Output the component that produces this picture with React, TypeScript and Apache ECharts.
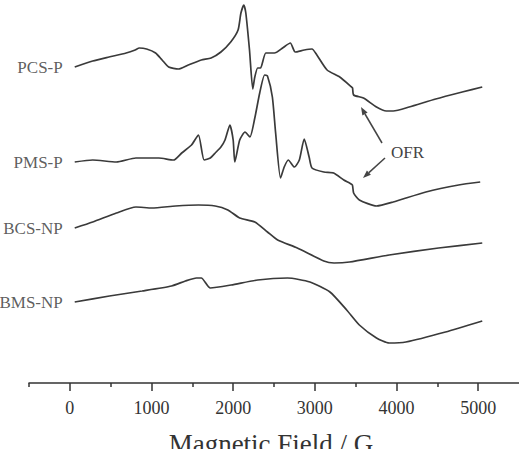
import React, { useEffect, useRef } from "react";
import * as echarts from "echarts";

// Magnetic field (G) sampling points and relative signal for each spectrum
const pcsField = [60, 280, 480, 690, 800, 850, 940, 1050, 1130, 1210, 1330, 1450, 1610, 1730, 1850, 1970, 2060, 2095, 2130, 2155, 2200, 2240, 2265, 2300, 2335, 2400, 2505, 2605, 2700, 2760, 2870, 2965, 3025, 3150, 3305, 3450, 3462, 3475, 3595, 3755, 3875, 3960, 4155, 4480, 4805, 5050];
const pcsSignal = [0, 6, 10, 14, 17, 19, 18, 14, 7, 0, -2, 2, 7, 9, 15, 25, 37, 54, 62, 54, 17, -22, -10, -1, -1, 14, 14, 19, 24, 15, 17, 18, 12, -3, -10, -20, -21, -28, -31, -40, -44, -44, -40, -32, -25, -20];

const pmsField = [60, 280, 570, 810, 1090, 1270, 1370, 1490, 1575, 1645, 1720, 1780, 1850, 1900, 1960, 2000, 2020, 2080, 2145, 2205, 2265, 2325, 2385, 2420, 2480, 2520, 2580, 2625, 2675, 2750, 2810, 2870, 2930, 2965, 3110, 3230, 3355, 3425, 3460, 3475, 3545, 3755, 3960, 4360, 4760, 5025];
const pmsSignal = [0, 2, 0, 4, 4, 2, 9, 17, 27, 2, 4, 9, 15, 22, 37, 22, 0, 22, 30, 25, 44, 69, 87, 86, 65, 29, -16, -5, 2, -5, 2, 23, 5, -6, -10, -11, -18, -21, -23, -31, -38, -44, -40, -30, -23, -20];

const bcsField = [60, 280, 570, 810, 1005, 1295, 1575, 1780, 1935, 2080, 2265, 2420, 2545, 2785, 3110, 3235, 3425, 3910, 4515, 5050];
const bcsSignal = [0, 6, 15, 21, 20, 22, 23, 22, 18, 10, 6, -4, -12, -20, -33, -35, -34, -27, -20, -15];

const bmsField = [60, 485, 885, 1245, 1415, 1550, 1610, 1720, 1975, 2300, 2665, 2940, 3185, 3390, 3545, 3755, 3910, 4115, 4600, 5050];
const bmsSignal = [0, 6, 11, 16, 21, 24, 24, 14, 17, 22, 24, 20, 10, -8, -23, -36, -41, -40, -30, -19];

const sampleNames = ["PCS-P", "PMS-P", "BCS-NP", "BMS-NP"];
const stackOffsets = [316, 221, 155, 81];

const majorTicks = [0, 1000, 2000, 3000, 4000, 5000];
const minorTicks = [-500, 500, 1500, 2500, 3500, 4500];

const FONT = "'Liberation Serif', 'Times New Roman', serif";
const INK = "#333333";

export default function App() {
  const ref = useRef<HTMLDivElement>(null);

  useEffect(() => {
    if (!ref.current) return;
    const chart = echarts.init(ref.current, undefined, { renderer: "svg" });

    const fields = [pcsField, pmsField, bcsField, bmsField];
    const signals = [pcsSignal, pmsSignal, bcsSignal, bmsSignal];

    const lineSeries = sampleNames.map((name, i) => ({
      type: "line",
      name,
      xAxisIndex: 0,
      yAxisIndex: 0,
      showSymbol: false,
      symbol: "none",
      smooth: 0.2,
      data: fields[i].map((f, j) => [f, stackOffsets[i] + signals[i][j]]),
      lineStyle: { color: "#3a3a3a", width: 1.7 },
      silent: true,
    }));

    const labelSeries = {
      type: "scatter",
      xAxisIndex: 0,
      yAxisIndex: 0,
      symbolSize: 0,
      silent: true,
      data: sampleNames.map((name, i) => ({
        name,
        value: [fields[i][0], stackOffsets[i]],
      })),
      label: {
        show: true,
        position: "left",
        distance: 12,
        formatter: "{b}",
        fontFamily: FONT,
        fontSize: 17,
        color: INK,
      },
    };

    chart.setOption({
      animation: false,
      backgroundColor: "#ffffff",
      grid: { left: 29, right: -5, top: 0, bottom: 66 },
      xAxis: [
        {
          type: "value",
          position: "bottom",
          min: -500,
          max: 5500,
          axisLine: { show: true, lineStyle: { color: INK, width: 1.5 } },
          axisTick: {
            show: true,
            length: 8,
            customValues: majorTicks,
            lineStyle: { color: INK, width: 1.5 },
          },
          axisLabel: {
            show: true,
            customValues: majorTicks,
            margin: 16,
            formatter: (v: number) => String(v),
            fontFamily: FONT,
            fontSize: 18,
            color: INK,
          },
          splitLine: { show: false },
        },
        {
          type: "value",
          position: "bottom",
          min: -500,
          max: 5500,
          axisLine: { show: false },
          axisTick: {
            show: true,
            length: 4,
            customValues: minorTicks,
            lineStyle: { color: INK, width: 1.5 },
          },
          axisLabel: { show: false },
          splitLine: { show: false },
        },
      ],
      yAxis: {
        type: "value",
        min: 0,
        max: 383,
        show: false,
        splitLine: { show: false },
      },
      series: [...lineSeries, labelSeries],
      graphic: [
        {
          type: "text",
          x: 271,
          y: 444,
          style: {
            text: "Magnetic Field / G",
            fontFamily: FONT,
            fontSize: 27,
            fill: INK,
            align: "center",
            verticalAlign: "middle",
          },
        },
        {
          type: "text",
          x: 391,
          y: 152,
          style: {
            text: "OFR",
            fontFamily: FONT,
            fontSize: 17,
            fill: "#444444",
            align: "left",
            verticalAlign: "middle",
          },
        },
        {
          type: "line",
          shape: { x1: 382, y1: 143, x2: 365, y2: 114 },
          style: { stroke: "#444444", lineWidth: 1.5 },
        },
        {
          type: "polygon",
          shape: { points: [[361, 107], [367.6, 112.4], [362.4, 115.4]] },
          style: { fill: "#444444" },
        },
        {
          type: "line",
          shape: { x1: 385, y1: 158, x2: 368.9, y2: 172.6 },
          style: { stroke: "#444444", lineWidth: 1.5 },
        },
        {
          type: "polygon",
          shape: { points: [[363, 178], [366.9, 170.4], [370.9, 174.8]] },
          style: { fill: "#444444" },
        },
      ],
    });

    return () => chart.dispose();
  }, []);

  return (
    <div
      ref={ref}
      style={{ position: "fixed", left: 0, top: 0, width: 519, height: 449 }}
    />
  );
}
